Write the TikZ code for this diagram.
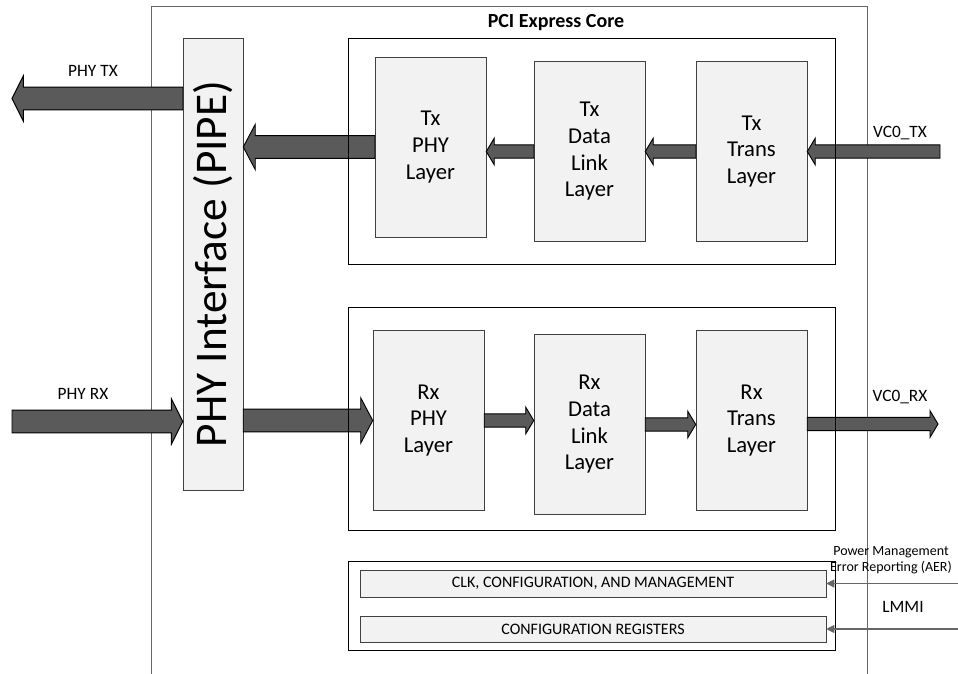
\documentclass[tikz,border=0pt]{standalone}
\usepackage{graphicx}
\usepackage{fontspec}
\setmainfont{Carlito}
\usepackage{xcolor}
\usepackage{tikz}
\usetikzlibrary{calc,arrows.meta,positioning}

\definecolor{boxfill}{HTML}{F2F2F2}
\definecolor{arrowfill}{HTML}{5A5A5A}
\definecolor{edgegray}{HTML}{404040}

% block arrow: tail, tip, shaft half height, head half height, head length
\newcommand{\blockarrow}[5]{%
  \path let \p1=(#1), \p2=(#2), \n1={ifthenelse(\x2>\x1,1,-1)} in
    [fill=arrowfill, draw=black, line width=0.7pt, line join=miter]
    (\x1,\y1+#3) -- (\x2-\n1*#5,\y1+#3) -- (\x2-\n1*#5,\y1+#4) -- (\x2,\y1)
    -- (\x2-\n1*#5,\y1-#4) -- (\x2-\n1*#5,\y1-#3) -- (\x1,\y1-#3) -- cycle;}

\tikzset{
  layer/.style={draw=edgegray, fill=boxfill, minimum width=83.25pt, minimum height=135pt,
    align=center, inner sep=0pt, font=\fontsize{17}{20}\selectfont},
  bar/.style={draw=edgegray, fill=boxfill, minimum width=349.5pt, inner sep=0pt,
    font=\fontsize{12}{14}\selectfont},
  group/.style={draw=black, line width=0.6pt, minimum width=365.25pt, inner sep=0pt},
  lbl/.style={font=\fontsize{13}{15}\selectfont},
  thin arrow/.style={draw=gray!80!black, line width=0.8pt, -{Triangle[width=6pt,length=6pt]}},
}

\begin{document}
\begin{tikzpicture}[x=0.75pt, y=-0.75pt]
    \useasboundingbox (0,0) rectangle (958,674);

    % Core outline (open at the bottom)
    \draw[gray!80!black, line width=0.7pt] (151,674) -- (151,6) -- (867,6) -- (867,674);
    \node[font=\bfseries\fontsize{15}{18}\selectfont] (title) at (556,23) {PCI Express Core};

    % PIPE interface
    \node[draw=edgegray, fill=boxfill, minimum width=45pt, minimum height=339pt, inner sep=0pt,
          font=\fontsize{34}{40}\selectfont] (pipe) at (213,264) {\rotatebox{90}{PHY Interface (PIPE)}};

    % Tx layers
    \node[layer] (txphy) at (430.5,147) {Tx\\PHY\\Layer};
    \node[layer] (txdll) at (589.5,151.5) {Tx\\Data\\Link\\Layer};
    \node[layer] (txtrans) at (751.5,151.5) {Tx\\Trans\\Layer};

    % Rx layers
    \node[layer] (rxphy) at (428.5,420.5) {Rx\\PHY\\Layer};
    \node[layer] (rxdll) at (589.5,424.5) {Rx\\Data\\Link\\Layer};
    \node[layer] (rxtrans) at (751.5,420.5) {Rx\\Trans\\Layer};

    % Management bars
    \node[bar, minimum height=20.25pt] (clk) at (593,583.5) {CLK, CONFIGURATION, AND MANAGEMENT};
    \node[bar, minimum height=19.5pt] (cfgregs) at (593,629) {CONFIGURATION REGISTERS};

    % External ends
    \coordinate (phytx) at (12,98.5);
    \coordinate (phyrx) at (12,421.5);
    \coordinate (vctx) at (940,151.5);
    \coordinate (vcrx) at (938,424);
    \coordinate (pmin) at (958,583.5);
    \coordinate (lmmiin) at (958,629);

    % Wide data paths
    \blockarrow{pipe.west |- phytx}{phytx}{8.5pt}{17pt}{8.5pt}
    \blockarrow{phyrx}{phyrx -| pipe.west}{8.5pt}{17pt}{8.5pt}
    \blockarrow{txphy.west}{txphy.west -| pipe.east}{8.5pt}{17pt}{9pt}
    \blockarrow{pipe.east |- rxphy.west}{rxphy.west}{8.5pt}{17pt}{9pt}

    % Narrow data paths
    \blockarrow{txdll.west}{txdll.west -| txphy.east}{5pt}{10pt}{6pt}
    \blockarrow{txtrans.west}{txtrans.west -| txdll.east}{5pt}{10pt}{6pt}
    \blockarrow{vctx}{vctx -| txtrans.east}{5pt}{10pt}{6pt}
    \blockarrow{rxphy.east}{rxphy.east -| rxdll.west}{5pt}{10pt}{6pt}
    \blockarrow{rxdll.east}{rxdll.east -| rxtrans.west}{5pt}{10pt}{6pt}
    \blockarrow{rxtrans.east |- vcrx}{vcrx}{5pt}{10pt}{6pt}

    % Groups
    \node[group, minimum height=169.5pt] (txgroup) at (591.5,151) {};
    \node[group, minimum height=167.25pt] (rxgroup) at (591.5,418.5) {};
    \node[group, minimum height=66.75pt] (mgmtgroup) at (591.5,605.5) {};

    % Sideband inputs
    \draw[thin arrow] (pmin) -- (clk.east);
    \draw[thin arrow] (lmmiin) -- (cfgregs.east);

    % Labels
    \node[lbl] (phytxlbl) at (93,71) {PHY TX};
    \node[lbl] (phyrxlbl) at (83,394) {PHY RX};
    \node[lbl] (vctxlbl) at (900,133) {VC0\_TX};
    \node[lbl] (vcrxlbl) at (900,397) {VC0\_RX};
    \node[align=center, font=\fontsize{10.5}{12}\selectfont] (pmlbl) at (891,560) {Power Management\\Error Reporting (AER)};
    \node[lbl] (lmmilbl) at (903,607) {LMMI};

\end{tikzpicture}
\end{document}
